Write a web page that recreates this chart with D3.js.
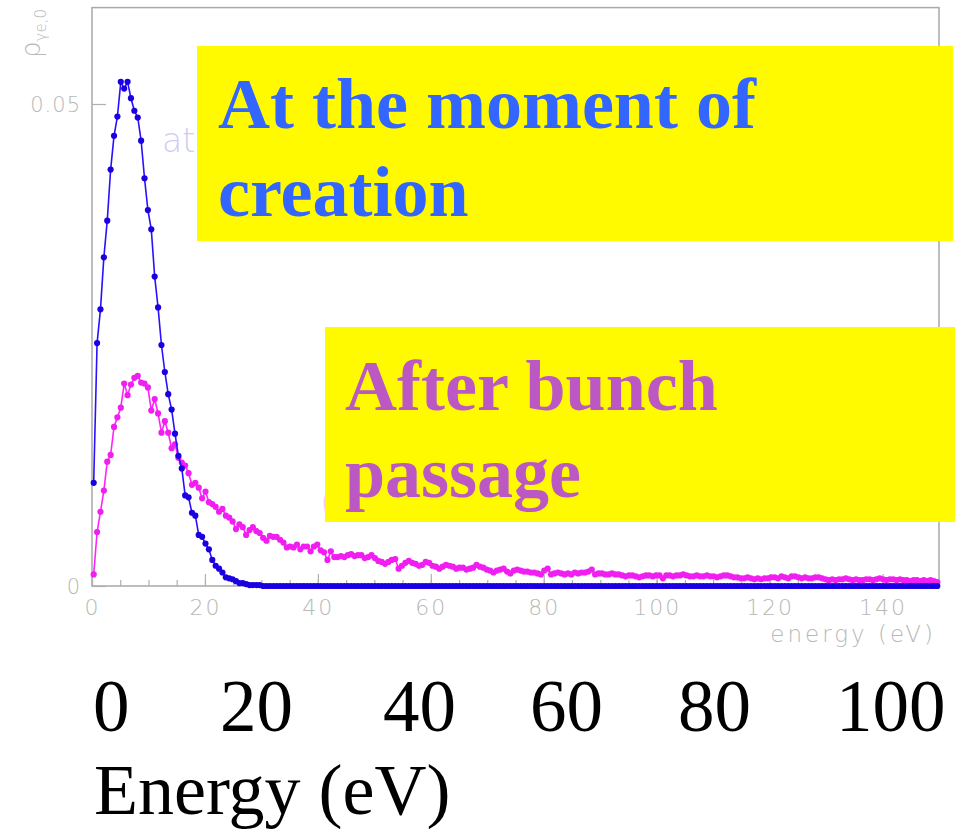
<!DOCTYPE html>
<html>
<head>
<meta charset="utf-8">
<script src="https://cdn.jsdelivr.net/npm/d3@7"></script>
<style>
  html, body { margin: 0; padding: 0; background: #ffffff; }
  svg { display: block; }
</style>
</head>
<body>
<svg id="chart" width="964" height="829"></svg>
<script>
// ---------------- DATA ----------------
// histogram: 250 bins of 0.6 eV over 0..150 eV
const binWidth = 0.6;
const energyMax = 150;

const creationValues = [
  0.0107,0.0252,0.0287,0.0341,0.0379,0.0432,0.0467,0.0487,0.0523,0.0516,
  0.0523,0.0506,0.0493,0.0486,0.0462,0.0423,0.0390,0.0370,0.0321,0.0289,
  0.0250,0.0222,0.0199,0.0183,0.0158,0.0135,0.0122,0.0094,0.0092,0.0076,
  0.0073,0.0053,0.0051,0.0044,0.0038,0.0027,0.0021,0.0018,0.0014,0.0009,
  0.0008,0.0007,0.0005,0.0003,0.0003,0.0002,0.0001,0.0001,0.0001,0.0001,
  0,0,0,0,0,0,0,0,0,0, 0,0,0,0,0,0,0,0,0,0,
  0,0,0,0,0,0,0,0,0,0, 0,0,0,0,0,0,0,0,0,0,
  0,0,0,0,0,0,0,0,0,0, 0,0,0,0,0,0,0,0,0,0,
  0,0,0,0,0,0,0,0,0,0, 0,0,0,0,0,0,0,0,0,0,
  0,0,0,0,0,0,0,0,0,0, 0,0,0,0,0,0,0,0,0,0,
  0,0,0,0,0,0,0,0,0,0, 0,0,0,0,0,0,0,0,0,0,
  0,0,0,0,0,0,0,0,0,0, 0,0,0,0,0,0,0,0,0,0,
  0,0,0,0,0,0,0,0,0,0, 0,0,0,0,0,0,0,0,0,0,
  0,0,0,0,0,0,0,0,0,0, 0,0,0,0,0,0,0,0,0,0,
  0,0,0,0,0,0,0,0,0,0, 0,0,0,0,0,0,0,0,0,0
];

const afterPassageValues = [
  0.0012,0.0056,0.0077,0.0099,0.0129,0.0136,0.0165,0.0175,0.0185,0.0210,
  0.0198,0.0209,0.0216,0.0218,0.0211,0.0210,0.0206,0.0182,0.0194,0.0179,
  0.0159,0.0171,0.0159,0.0143,0.0147,0.0133,0.0128,0.0125,0.0117,0.0105,
  0.0107,0.0102,0.0091,0.0098,0.0087,0.0085,0.0082,0.0077,0.0080,0.0073,
  0.0071,0.0067,0.0059,0.0064,0.0061,0.0053,0.0058,0.0061,0.0057,0.0055,
  0.0050,0.0047,0.0052,0.0051,0.0051,0.0048,0.0045,0.0040,0.0041,0.0040,
  0.0043,0.0038,0.0041,0.0041,0.0036,0.0041,0.0043,0.0037,0.0035,0.0027,
  0.0036,0.0030,0.0030,0.0031,0.0030,0.0032,0.0033,0.0031,0.0032,0.0032,
  0.0029,0.0030,0.0032,0.0029,0.0026,0.0025,0.0023,0.0025,0.0027,0.0028,
  0.0018,0.0021,0.0024,0.0026,0.0024,0.0023,0.0021,0.0022,0.0025,0.0024,
  0.0021,0.0020,0.0018,0.0020,0.0022,0.0021,0.0020,0.0018,0.0019,0.0019,
  0.0017,0.0018,0.0019,0.0022,0.0020,0.0019,0.0017,0.0016,0.0014,0.0016,
  0.0017,0.0018,0.0015,0.0013,0.0016,0.0017,0.0016,0.0015,0.0015,0.0014,
  0.0014,0.0013,0.0012,0.0016,0.0018,0.0012,0.0013,0.0014,0.0013,0.0012,
  0.0013,0.0012,0.0014,0.0013,0.0014,0.0014,0.0015,0.0017,0.0012,0.0013,
  0.0013,0.0012,0.0012,0.0013,0.0012,0.0012,0.0011,0.0010,0.0011,0.0011,
  0.0010,0.0009,0.0010,0.0011,0.0011,0.0010,0.0011,0.0011,0.0008,0.0011,
  0.0011,0.0010,0.0011,0.0011,0.0012,0.0011,0.0010,0.0010,0.0011,0.0010,
  0.0010,0.0011,0.0010,0.0010,0.0009,0.0010,0.0011,0.0011,0.0010,0.0009,
  0.0009,0.0008,0.0008,0.0009,0.0008,0.0007,0.0008,0.0007,0.0008,0.0008,
  0.0009,0.0009,0.0008,0.0010,0.0009,0.0008,0.0010,0.0010,0.0009,0.0008,
  0.0009,0.0008,0.0008,0.0009,0.0009,0.0008,0.0007,0.0006,0.0007,0.0006,
  0.0007,0.0007,0.0008,0.0007,0.0006,0.0007,0.0006,0.0006,0.0007,0.0007,
  0.0006,0.0007,0.0008,0.0007,0.0006,0.0007,0.0007,0.0006,0.0007,0.0006,
  0.0006,0.0005,0.0006,0.0006,0.0005,0.0006,0.0005,0.0006,0.0005,0.0004
];

const xTickValues = [0, 20, 40, 60, 80, 100, 120, 140];
const yTickValues = [0, 0.05];
const yTickLabels = ["0", "0.05"];
const xAxisTitle = "energy (eV)";
const boxTitle1 = ["At the moment of", "creation"];
const boxTitle2 = ["After bunch", "passage"];
const faintLabel1 = "at creation";
const faintLabel2 = "(after bunch passage)";
const bigTickLabels = ["0", "20", "40", "60", "80", "100"];
const bigAxisTitle = "Energy (eV)";

// ---------------- DRAWING ----------------
const svg = d3.select("#chart");
const frame = { left: 92, right: 939, top: 7.6, bottom: 586 };

const x = d3.scaleLinear().domain([0, energyMax]).range([frame.left, frame.right]);
const y = d3.scaleLinear().domain([0, 0.06]).range([frame.bottom, frame.top]);

const centers = d3.range(creationValues.length).map(i => (i + 0.5) * binWidth);
const creation = centers.map((e, i) => ({ e, v: creationValues[i] }));
const after = centers.map((e, i) => ({ e, v: afterPassageValues[i] }));

const axisFont = "'DejaVu Sans', sans-serif";
const grey = "#b8b8b8";

// faint original labels (mostly hidden behind yellow boxes)
svg.append("text").attr("x", 162).attr("y", 152)
  .attr("font-family", axisFont).attr("font-weight", 200).attr("font-size", 33)
  .attr("fill", "#cdcdf3").text(faintLabel1);
svg.append("text").attr("x", 320).attr("y", 514)
  .attr("font-family", axisFont).attr("font-weight", 200).attr("font-size", 33)
  .attr("fill", "#f6c8f6").text(faintLabel2);

// frame
svg.append("rect")
  .attr("x", frame.left).attr("y", frame.top)
  .attr("width", frame.right - frame.left).attr("height", frame.bottom - frame.top)
  .attr("fill", "none").attr("stroke", "#a8a8a8").attr("stroke-width", 1.5);

// x ticks: major every 20, minor every 5
const xAxis = d3.axisBottom(x).tickValues(xTickValues).tickSize(-12).tickPadding(0).tickFormat(d3.format("d"));
const xMinor = d3.axisBottom(x).tickValues(d3.range(0, energyMax + 0.1, 5)).tickSize(-6).tickFormat("");
const gxm = svg.append("g").attr("transform", `translate(0,${frame.bottom})`).call(xMinor);
gxm.select(".domain").remove();
gxm.selectAll("line").attr("stroke", "#b0b0b0").attr("stroke-width", 1.2);
const gx = svg.append("g").attr("transform", `translate(0,${frame.bottom})`).call(xAxis);
gx.select(".domain").remove();
gx.selectAll("line").attr("stroke", "#b0b0b0").attr("stroke-width", 1.2);
gx.selectAll("text").attr("y", 29).attr("dy", null)
  .attr("font-family", axisFont).attr("font-weight", 200).attr("font-size", 22)
  .attr("letter-spacing", 2).attr("fill", grey);

// y ticks
const yAxis = d3.axisLeft(y).tickValues(yTickValues).tickSize(-14).tickPadding(11)
  .tickFormat((d, i) => yTickLabels[i]);
const gy = svg.append("g").attr("transform", `translate(${frame.left},0)`).call(yAxis);
gy.select(".domain").remove();
gy.selectAll("line").attr("stroke", "#b0b0b0").attr("stroke-width", 1.2);
gy.selectAll("text").attr("dy", "0.36em")
  .attr("font-family", axisFont).attr("font-weight", 200).attr("font-size", 21)
  .attr("letter-spacing", 1).attr("fill", grey);

// axis titles
svg.append("text").attr("x", 936).attr("y", 642).attr("text-anchor", "end")
  .attr("font-family", axisFont).attr("font-weight", 200).attr("font-size", 23)
  .attr("letter-spacing", 3).attr("fill", grey).text(xAxisTitle);
const yt = svg.append("text").attr("transform", "translate(40,58) rotate(-90)")
  .attr("font-family", axisFont).attr("font-weight", 200).attr("fill", grey);
yt.append("tspan").attr("font-size", 26).text("ρ");
yt.append("tspan").attr("font-size", 15).attr("dy", 6).text("γe,0");

// series
const line = d3.line().x(d => x(d.e)).y(d => y(d.v));
function drawSeries(data, lineColor, dotColor) {
  svg.append("path").datum(data).attr("d", line)
    .attr("fill", "none").attr("stroke", lineColor).attr("stroke-width", 1.6);
  svg.append("g").selectAll("circle").data(data).join("circle")
    .attr("cx", d => x(d.e)).attr("cy", d => y(d.v)).attr("r", 3.1)
    .attr("fill", dotColor);
}
drawSeries(after, "#ff22ff", "#f01ef0");
drawSeries(creation, "#2a10ff", "#1a00e0");

// yellow annotation boxes
const serif = "'Liberation Serif', 'Times New Roman', serif";
function box(x0, y0, w, h, lines, color, tx, ty, lh) {
  svg.append("rect").attr("x", x0).attr("y", y0).attr("width", w).attr("height", h).attr("fill", "#fffa00");
  const t = svg.append("text").attr("font-family", serif).attr("font-weight", "bold")
    .attr("font-size", 72).attr("fill", color);
  lines.forEach((s, i) => t.append("tspan").attr("x", tx).attr("y", ty + i * lh).text(s));
}
box(197, 46, 756, 195, boxTitle1, "#3366ff", 218, 128, 88);
box(325, 327, 630, 195, boxTitle2, "#bb58c4", 345, 410, 87);

// big overlay axis labels
const bigX = [93, 220, 383, 530, 678, 836];
svg.append("g").selectAll("text").data(bigTickLabels).join("text")
  .attr("x", (d, i) => bigX[i]).attr("y", 731)
  .attr("font-family", serif).attr("font-size", 73).attr("fill", "#000").text(d => d);
svg.append("text").attr("x", 94).attr("y", 814)
  .attr("font-family", serif).attr("font-size", 72).attr("fill", "#000").text(bigAxisTitle);
</script>
</body>
</html>
